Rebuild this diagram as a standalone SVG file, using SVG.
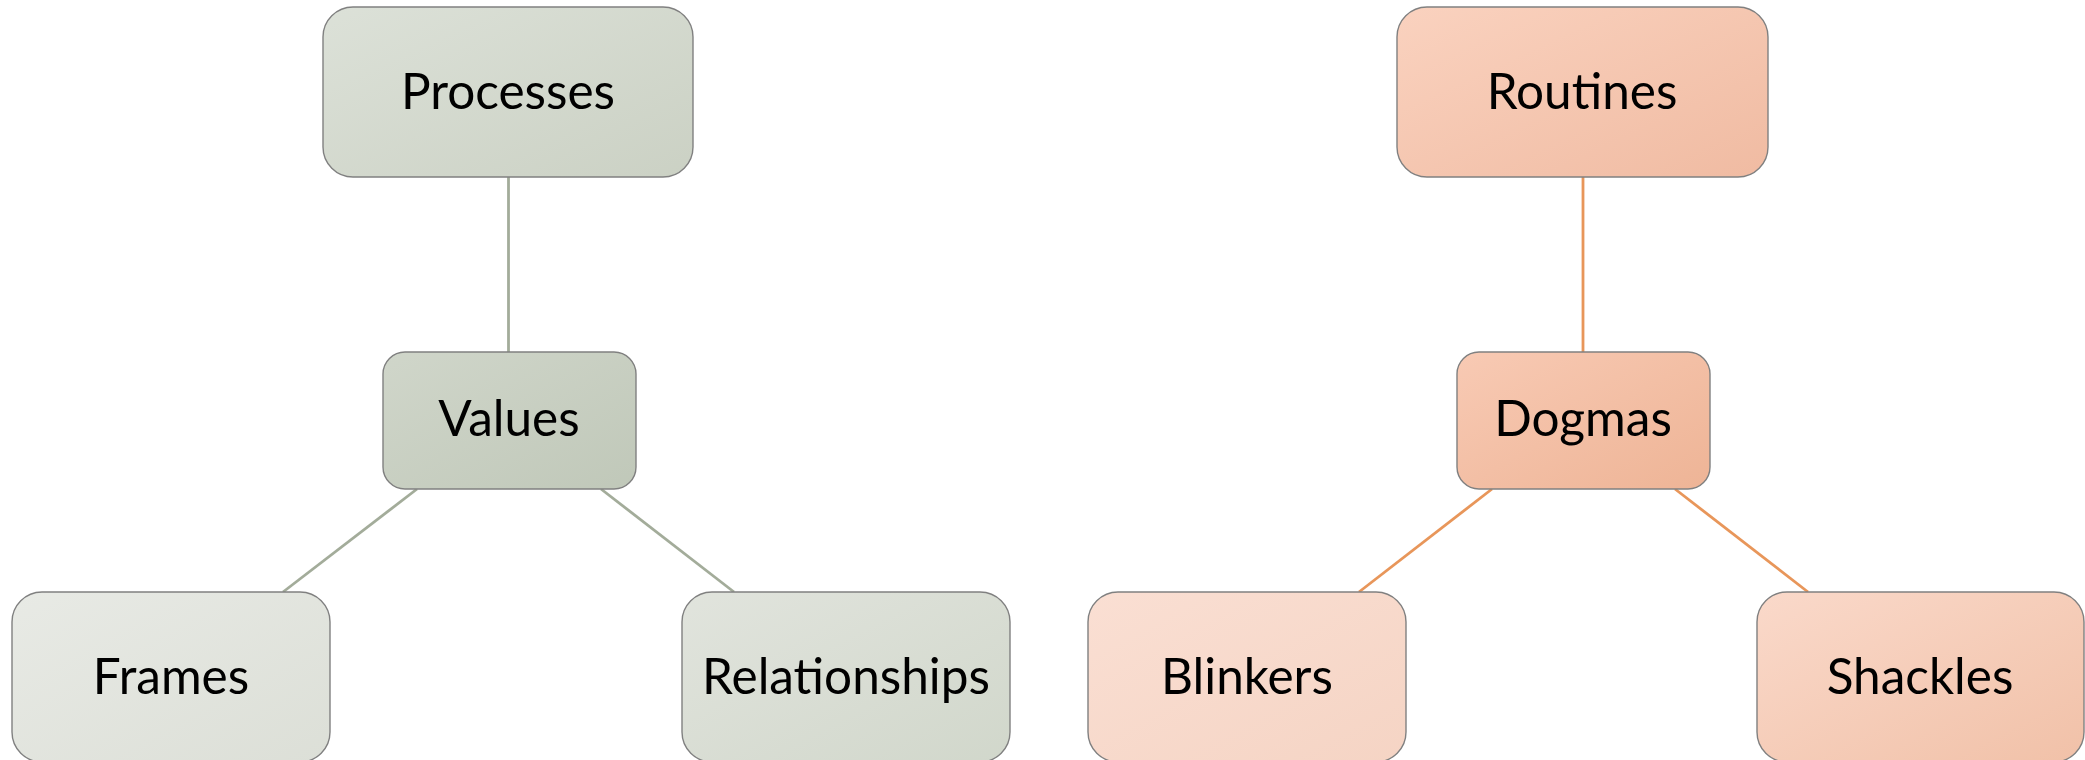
<svg xmlns="http://www.w3.org/2000/svg" width="2085" height="760" viewBox="0 0 2085 760">
<defs>
<linearGradient id="gProc" x1="0" y1="0" x2="1" y2="1"><stop offset="0" stop-color="#dce1d8"/><stop offset="1" stop-color="#cbd1c4"/></linearGradient>
<linearGradient id="gVal" x1="0" y1="0" x2="1" y2="1"><stop offset="0" stop-color="#d0d6ca"/><stop offset="1" stop-color="#c0c8b9"/></linearGradient>
<linearGradient id="gFra" x1="0" y1="0" x2="1" y2="1"><stop offset="0" stop-color="#e8eae5"/><stop offset="1" stop-color="#dcdfd7"/></linearGradient>
<linearGradient id="gRel" x1="0" y1="0" x2="1" y2="1"><stop offset="0" stop-color="#e1e4dd"/><stop offset="1" stop-color="#d1d7cb"/></linearGradient>
<linearGradient id="gRou" x1="0" y1="0" x2="1" y2="1"><stop offset="0" stop-color="#fad2bf"/><stop offset="1" stop-color="#f0bba2"/></linearGradient>
<linearGradient id="gDog" x1="0" y1="0" x2="1" y2="1"><stop offset="0" stop-color="#f8cab4"/><stop offset="1" stop-color="#eeb496"/></linearGradient>
<linearGradient id="gBli" x1="0" y1="0" x2="1" y2="1"><stop offset="0" stop-color="#fadfd3"/><stop offset="1" stop-color="#f5d4c4"/></linearGradient>
<linearGradient id="gSha" x1="0" y1="0" x2="1" y2="1"><stop offset="0" stop-color="#fad9ca"/><stop offset="1" stop-color="#f1c1a8"/></linearGradient>
</defs>
<style>
.box{stroke:#808080;stroke-width:1.4}
.lbl{font-family:Lato,"Open Sans",sans-serif;font-size:49.5px;fill:#000;text-anchor:middle}
.cg{stroke:#a3ac9a;stroke-width:2.8;fill:none}
.co{stroke:#e8965a;stroke-width:2.8;fill:none}
</style>
<rect width="2085" height="760" fill="#ffffff"/>
<g id="connectors">
<line class="cg" x1="508.5" y1="177" x2="508.5" y2="352"/>
<line class="cg" x1="417" y1="489" x2="283" y2="592"/>
<line class="cg" x1="601" y1="489" x2="734" y2="592"/>
<line class="co" x1="1583" y1="177" x2="1583" y2="352"/>
<line class="co" x1="1492" y1="489" x2="1359" y2="592"/>
<line class="co" x1="1675" y1="489" x2="1808" y2="592"/>
</g>
<g id="processes"><rect class="box" x="323" y="7" width="370" height="170" rx="30" fill="url(#gProc)"/><text class="lbl" x="508" y="108.5">Processes</text></g>
<g id="values"><rect class="box" x="383" y="352" width="253" height="137" rx="22" fill="url(#gVal)"/><text class="lbl" x="509" y="435.5">Values</text></g>
<g id="frames"><rect class="box" x="12" y="592" width="318" height="170" rx="30" fill="url(#gFra)"/><text class="lbl" x="171" y="693.5">Frames</text></g>
<g id="relationships"><rect class="box" x="682" y="592" width="328" height="170" rx="30" fill="url(#gRel)"/><text class="lbl" x="846" y="693.5">Relationships</text></g>
<g id="routines"><rect class="box" x="1397" y="7" width="371" height="170" rx="30" fill="url(#gRou)"/><text class="lbl" x="1582" y="108.5">Routines</text></g>
<g id="dogmas"><rect class="box" x="1457" y="352" width="253" height="137" rx="22" fill="url(#gDog)"/><text class="lbl" x="1583" y="435.5">Dogmas</text></g>
<g id="blinkers"><rect class="box" x="1088" y="592" width="318" height="170" rx="30" fill="url(#gBli)"/><text class="lbl" x="1247" y="693.5">Blinkers</text></g>
<g id="shackles"><rect class="box" x="1757" y="592" width="327" height="170" rx="30" fill="url(#gSha)"/><text class="lbl" x="1920" y="693.5">Shackles</text></g>
</svg>
